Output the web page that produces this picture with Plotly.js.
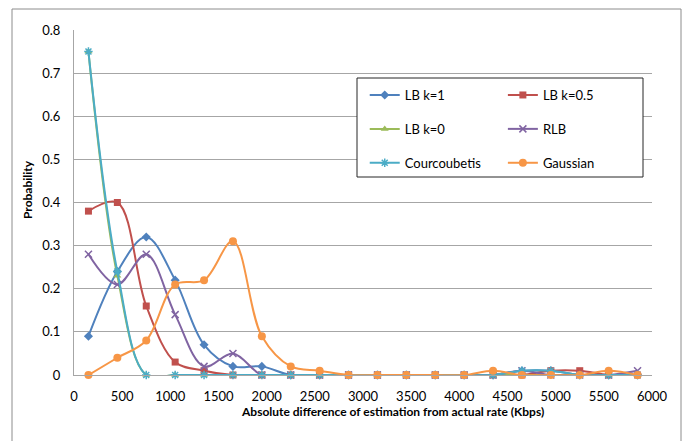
<!DOCTYPE html>
<html>
<head>
<meta charset="utf-8">
<script src="https://cdn.plot.ly/plotly-3.0.1.min.js"></script>
<style>
  html, body { margin: 0; padding: 0; background: #ffffff; }
  #chart { width: 685px; height: 441px; }
</style>
</head>
<body>
<div id="chart"></div>
<script>
// Bin centres of the absolute estimation error (Kbps)
const errorBins = [150, 450, 750, 1050, 1350, 1650, 1950, 2250, 2550, 2850,
                   3150, 3450, 3750, 4050, 4350, 4650, 4950, 5250, 5550, 5850];

// Probability of each error bin, per estimator
const lbK1   = [0.09, 0.24, 0.32, 0.22, 0.07, 0.02, 0.02, 0, 0, 0, 0, 0, 0, 0, 0, 0.01, 0.01, 0, 0, 0];
const lbK05  = [0.38, 0.40, 0.16, 0.03, 0.01, 0, 0, 0, 0, 0, 0, 0, 0, 0, 0, 0, 0.01, 0.01, 0, 0];
const lbK0   = [0.75, 0.23, 0, 0, 0, 0, 0, 0, 0, 0, 0, 0, 0, 0, 0, 0, 0, 0, 0, 0];
const rlb    = [0.28, 0.21, 0.28, 0.14, 0.02, 0.05, 0, 0, 0, 0, 0, 0, 0, 0, 0, 0.01, 0, 0, 0, 0.01];
const courc  = [0.75, 0.24, 0, 0, 0, 0, 0, 0, 0, 0, 0, 0, 0, 0, 0, 0.01, 0.01, 0, 0, 0];
const gauss  = [0, 0.04, 0.08, 0.21, 0.22, 0.31, 0.09, 0.02, 0.01, 0, 0, 0, 0, 0, 0.01, 0, 0, 0, 0.01, 0];

const seriesNames = ['LB k=1', 'LB k=0.5', 'LB k=0', 'RLB', 'Courcoubetis', 'Gaussian'];

const xTitle = 'Absolute difference of estimation from actual rate (Kbps)';
const yTitle = 'Probability';

const FONT = 'Lato, "Open Sans", sans-serif';

function series(name, y, color, symbol, size, legend, open) {
  return {
    type: 'scatter',
    mode: 'lines+markers',
    name: name,
    x: errorBins,
    y: y,
    line: { color: color, width: 2, shape: 'spline', smoothing: 1 },
    marker: {
      color: color, symbol: symbol, size: size,
      line: { color: color, width: open ? 1.5 : 0 }
    },
    cliponaxis: false,
    legend: legend,
    legendgroup: name
  };
}

const data = [
  series(seriesNames[0], lbK1,  '#4F81BD', 'diamond',      7, 'legend',  false),
  series(seriesNames[1], lbK05, '#C0504D', 'square',       7, 'legend2', false),
  series(seriesNames[2], lbK0,  '#9BBB59', 'triangle-up',  7, 'legend',  false),
  series(seriesNames[3], rlb,   '#8064A2', 'x-thin-open',  7, 'legend2', true),
  series(seriesNames[4], courc, '#4BACC6', 'asterisk-open',7, 'legend',  true),
  series(seriesNames[5], gauss, '#F79646', 'circle',       8, 'legend2', false)
];

const legendCommon = {
  bgcolor: 'rgba(0,0,0,0)',
  borderwidth: 0,
  font: { family: FONT, size: 13, color: '#000' },
  tracegroupgap: 14,
  xanchor: 'left',
  yanchor: 'top',
  orientation: 'v'
};

// plot-area geometry in pixels, used to place frame and titles
const PL = 74, PR = 652, PT = 30, PB = 375;
const px = v => (v - PL) / (PR - PL);
const py = v => (PB - v) / (PB - PT);

const layout = {
  width: 685,
  height: 441,
  margin: { l: PL, r: 685 - PR, t: PT, b: 441 - PB },
  paper_bgcolor: '#ffffff',
  plot_bgcolor: '#ffffff',
  font: { family: FONT, size: 13, color: '#000' },
  showlegend: true,
  legend:  Object.assign({}, legendCommon, { x: 0.503, y: 0.855 }),
  legend2: Object.assign({}, legendCommon, { x: 0.742, y: 0.855 }),
  xaxis: {
    range: [0, 6000],
    dtick: 500,
    tick0: 0,
    showgrid: false,
    zeroline: false,
    showline: true,
    linecolor: '#a6a6a6',
    linewidth: 1,
    ticks: '',
    ticklabelstandoff: 9,
    tickfont: { family: FONT, size: 13, color: '#000' }
  },
  yaxis: {
    range: [0, 0.8],
    dtick: 0.1,
    tick0: 0,
    showgrid: true,
    gridcolor: '#a6a6a6',
    gridwidth: 1,
    zeroline: false,
    showline: true,
    linecolor: '#a6a6a6',
    linewidth: 1,
    ticks: '',
    ticklabelstandoff: 10,
    tickfont: { family: FONT, size: 13, color: '#000' }
  },
  annotations: [
    { text: '<b>' + xTitle + '</b>', xref: 'paper', yref: 'paper',
      x: px(392), y: py(411), xanchor: 'center', yanchor: 'middle',
      showarrow: false, font: { family: FONT, size: 12, color: '#000' } },
    { text: '<b>' + yTitle + '</b>', xref: 'paper', yref: 'paper',
      x: px(28), y: py(190), xanchor: 'center', yanchor: 'middle', textangle: -90,
      showarrow: false, font: { family: FONT, size: 12, color: '#000' } }
  ],
  shapes: [
    // outer chart frame
    { type: 'rect', xref: 'paper', yref: 'paper',
      x0: px(12), x1: px(681), y0: py(460), y1: py(9),
      line: { color: '#8c8c8c', width: 1 }, fillcolor: 'rgba(0,0,0,0)', layer: 'below' },
    // legend frame
    { type: 'rect', xref: 'paper', yref: 'paper',
      x0: px(357), x1: px(643), y0: py(177), y1: py(78),
      line: { color: '#262626', width: 1 }, fillcolor: '#ffffff', layer: 'above' }
  ]
};

Plotly.newPlot('chart', data, layout, { displayModeBar: false, staticPlot: true });
</script>
</body>
</html>
